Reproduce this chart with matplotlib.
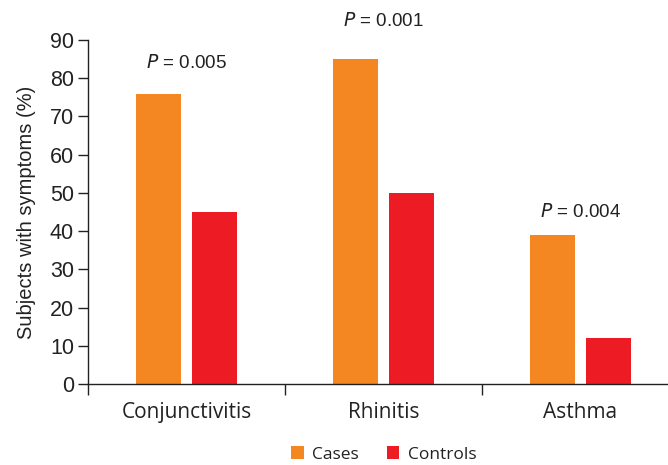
import matplotlib
matplotlib.use("Agg")
import matplotlib.pyplot as plt
import numpy as np
from matplotlib.ticker import FixedLocator

categories = ["Conjunctivitis", "Rhinitis", "Asthma"]
cases = [76, 85, 39]
controls = [45, 50, 12]
p_values = ["0.005", "0.001", "0.004"]
y_ticks = [0, 10, 20, 30, 40, 50, 60, 70, 80, 90]

# layout
p_label_y = [84, 95, 45]
c_orange = "#F58723"
c_red = "#ED1C24"
txt = "#222222"

fig = plt.figure(figsize=(6.68, 4.65), dpi=100)
ax = fig.add_axes([88/668, 81/465, 1 - 88/668, 344/465])

x = np.arange(len(categories))
w = 0.228
off = 0.142
ax.bar(x - off, cases, w, color=c_orange, label="Cases")
ax.bar(x + off, controls, w, color=c_red, label="Controls")

ax.set_ylim(0, 90)
ax.set_xlim(-0.5, -0.5 + 580/197)
ax.set_yticks(y_ticks)
ax.spines["top"].set_visible(False)
ax.spines["right"].set_visible(False)
for s in ("left", "bottom"):
    ax.spines[s].set_color(txt)
    ax.spines[s].set_linewidth(1.0)

ax.tick_params(axis="y", direction="out", length=7, width=1, colors=txt,
               labelsize=15.5, pad=3)
for lab in ax.get_yticklabels():
    lab.set_family("Liberation Sans")

ax.set_xticks(x)
ax.set_xticklabels(categories, fontsize=15, family="Open Sans", color=txt)
ax.tick_params(axis="x", which="major", length=0, pad=13)
ax.xaxis.set_minor_locator(FixedLocator([-0.5, 0.5, 1.5, 2.5]))
ax.tick_params(axis="x", which="minor", direction="out", length=8, width=1, color=txt)

ax.set_ylabel("Subjects with symptoms (%)", fontsize=14.5, family="Liberation Sans",
              color=txt, labelpad=10)

for i, p in enumerate(p_values):
    ax.text(x[i], p_label_y[i], r"$\it{P}$" + " = " + p, ha="center", va="center",
            fontsize=13.5, family="Liberation Sans", color=txt, clip_on=False)

leg = ax.legend(loc="center", bbox_to_anchor=(0.51, -0.205), ncol=2, frameon=False,
                prop={"family": "Open Sans", "size": 12.5}, handlelength=0.7,
                handleheight=0.7, columnspacing=1.6, handletextpad=0.5,
                borderpad=0.2)
for t in leg.get_texts():
    t.set_color(txt)

fig.savefig("out.png", dpi=100)
